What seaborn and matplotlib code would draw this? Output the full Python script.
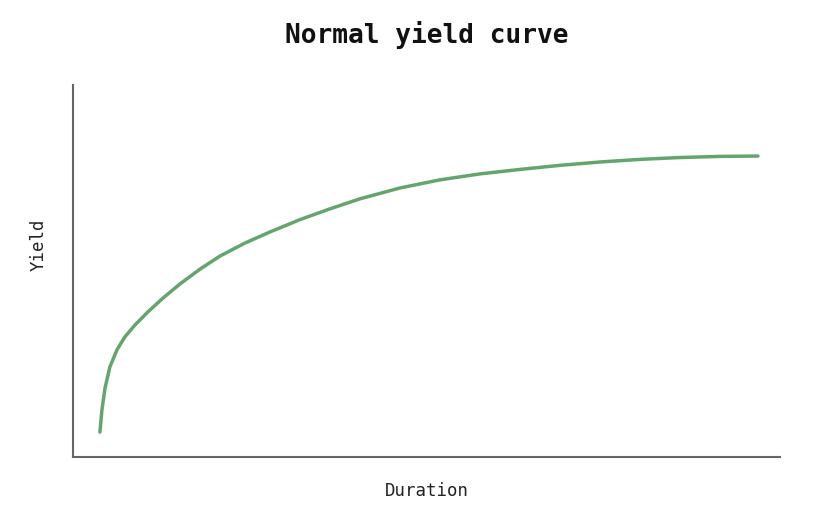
import matplotlib
matplotlib.use("Agg")
import matplotlib.pyplot as plt
import seaborn as sns
import pandas as pd

duration = [1.22, 1.31, 1.45, 1.67, 1.99, 2.35, 2.81, 3.39, 4.07, 4.84, 5.75,
            6.65, 7.78, 8.92, 10.27, 11.63, 12.99, 14.79, 16.61, 18.42, 20.23,
            22.04, 23.85, 25.66, 27.47, 29.28, 31.00]
yield_ = [0.67, 1.26, 1.85, 2.42, 2.88, 3.23, 3.55, 3.90, 4.27, 4.65, 5.05,
          5.40, 5.75, 6.05, 6.38, 6.67, 6.94, 7.23, 7.45, 7.61, 7.73,
          7.84, 7.93, 8.00, 8.05, 8.08, 8.09]

df = pd.DataFrame({"Duration": duration, "Yield": yield_})

sns.set_style("white")
plt.rcParams['font.family'] = ['DejaVu Sans Mono', 'DejaVu Sans']

fig = plt.figure(figsize=(8.32, 5.22), dpi=100)
ax = fig.add_axes([0.0877, 0.1245, 0.8498, 0.7127])

sns.lineplot(data=df, x="Duration", y="Yield", ax=ax, color="#64a56e",
             linewidth=2.5, solid_joinstyle="round")

ax.set_xlim(0, 32)
ax.set_ylim(0, 10)
ax.set_xticks([])
ax.set_yticks([])
for s in ["top", "right"]:
    ax.spines[s].set_visible(False)
for s in ["left", "bottom"]:
    ax.spines[s].set_color("#666666")
    ax.spines[s].set_linewidth(1.5)

ax.set_xlabel("Duration", fontsize=12.5, color="#222222")
ax.set_ylabel("Yield", fontsize=12.5, color="#222222")
ax.xaxis.set_label_coords(0.50, -0.068)
ax.yaxis.set_label_coords(-0.036, 0.57)
fig.text(0.513, 0.933, "Normal yield curve", ha="center", va="center",
         fontsize=18.8, fontweight="bold", color="#111111")

fig.savefig("out.png", dpi=100)
